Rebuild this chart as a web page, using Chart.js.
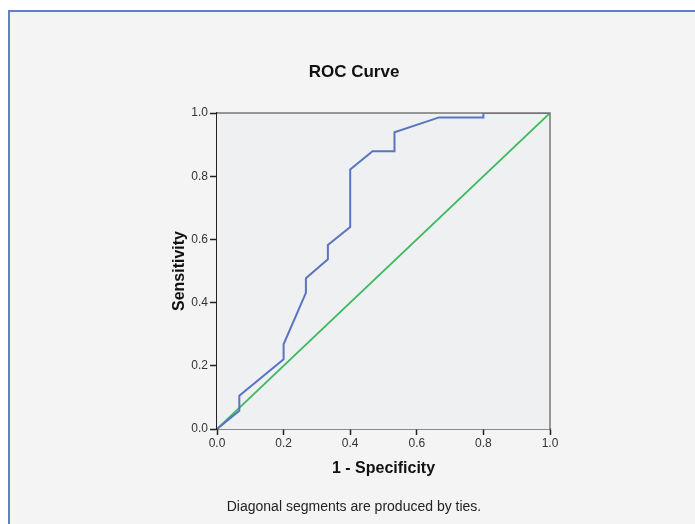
<!DOCTYPE html>
<html>
<head>
<meta charset="utf-8">
<script src="https://cdn.jsdelivr.net/npm/chart.js@4"></script>
<style>
  html, body { margin: 0; padding: 0; background: #ffffff; }
  #panel {
    position: absolute; left: 8px; top: 10px; width: 700px; height: 530px;
    background: #f4f4f4; border-left: 2px solid #5f80c6; border-top: 2px solid #5f80c6;
  }
  #chart { position: absolute; left: 0; top: 0; }
</style>
</head>
<body>
<div id="panel"></div>
<canvas id="chart" width="695" height="524"></canvas>
<script>
// Puntos de la curva ROC (1 - especificidad, sensibilidad)
const fpr = [0, 0.067, 0.067, 0.2, 0.2, 0.267, 0.267, 0.333, 0.333, 0.4, 0.4, 0.467, 0.533, 0.533, 0.667, 0.8, 0.8, 1];
const tpr = [0, 0.058, 0.105, 0.221, 0.268, 0.431, 0.477, 0.537, 0.582, 0.639, 0.821, 0.879, 0.879, 0.939, 0.986, 0.986, 1, 1];

// Linea de referencia
const refX = [0, 1];
const refY = [0, 1];

const tickValues = [0, 0.2, 0.4, 0.6, 0.8, 1.0];

const titulo = 'ROC Curve';
const nota = 'Diagonal segments are produced by ties.';

const FONT = '"Liberation Sans", Arial, sans-serif';

function puntos(xs, ys) {
    return xs.map((x, i) => ({ x: x, y: ys[i] }));
}

// Fondo y marco del area del grafico, mas titulo y nota
const marcoPlugin = {
    id: 'marco',
    beforeDatasetsDraw(chart) {
        const { ctx, chartArea: a } = chart;
        ctx.save();
        ctx.fillStyle = '#eef0f2';
        ctx.fillRect(a.left, a.top, a.right - a.left, a.bottom - a.top);
        ctx.strokeStyle = '#777777';
        ctx.lineWidth = 1.5;
        ctx.beginPath();
        ctx.moveTo(a.left, a.top);
        ctx.lineTo(a.right, a.top);
        ctx.lineTo(a.right, a.bottom);
        ctx.stroke();
        ctx.restore();
    },
    afterDraw(chart) {
        const ctx = chart.ctx;
        ctx.save();
        ctx.fillStyle = '#111111';
        ctx.textAlign = 'center';
        ctx.textBaseline = 'middle';
        ctx.font = 'bold 17px ' + FONT;
        ctx.fillText(titulo, 354, 72);
        ctx.fillStyle = '#222222';
        ctx.font = '14px ' + FONT;
        ctx.fillText(nota, 354, 507);
        ctx.restore();
    }
};

const ctx = document.getElementById('chart').getContext('2d');
new Chart(ctx, {
    type: 'scatter',
    data: {
        datasets: [
            {
                label: 'ROC',
                data: puntos(fpr, tpr),
                showLine: true,
                borderColor: '#5b74c2',
                borderWidth: 2,
                pointRadius: 0,
                tension: 0
            },
            {
                label: 'Referencia',
                data: puntos(refX, refY),
                showLine: true,
                borderColor: '#3dba5e',
                borderWidth: 1.8,
                pointRadius: 0,
                tension: 0
            }
        ]
    },
    options: {
        responsive: false,
        animation: false,
        layout: { padding: { left: 160, top: 113, right: 145, bottom: 45 } },
        plugins: {
            legend: { display: false },
            tooltip: { enabled: false }
        },
        scales: {
            x: {
                type: 'linear',
                min: 0,
                max: 1,
                afterFit: (scale) => { scale.height = 50; },
                afterBuildTicks: (scale) => { scale.ticks = tickValues.map(v => ({ value: v })); },
                ticks: {
                    callback: (v) => Number(v).toFixed(1),
                    font: { family: FONT, size: 12 },
                    color: '#333333',
                    padding: 1,
                    maxRotation: 0
                },
                grid: { drawOnChartArea: false, tickLength: 6, color: '#222222', tickWidth: 1.5 },
                border: { color: '#222222', width: 1.5 },
                title: {
                    display: true,
                    text: '1 - Specificity',
                    font: { family: FONT, size: 16, weight: 'bold' },
                    color: '#111111',
                    padding: { top: 0, bottom: 1 }
                }
            },
            y: {
                type: 'linear',
                min: 0,
                max: 1,
                afterFit: (scale) => { scale.width = 57; },
                afterBuildTicks: (scale) => { scale.ticks = tickValues.map(v => ({ value: v })); },
                ticks: {
                    callback: (v) => Number(v).toFixed(1),
                    font: { family: FONT, size: 12 },
                    color: '#333333',
                    padding: 2
                },
                grid: { drawOnChartArea: false, tickLength: 7, color: '#222222', tickWidth: 1.5 },
                border: { color: '#222222', width: 1.5 },
                title: {
                    display: true,
                    text: 'Sensitivity',
                    font: { family: FONT, size: 16, weight: 'bold' },
                    color: '#111111',
                    padding: { top: 10, bottom: 0 }
                }
            }
        }
    },
    plugins: [marcoPlugin]
});
</script>
</body>
</html>
